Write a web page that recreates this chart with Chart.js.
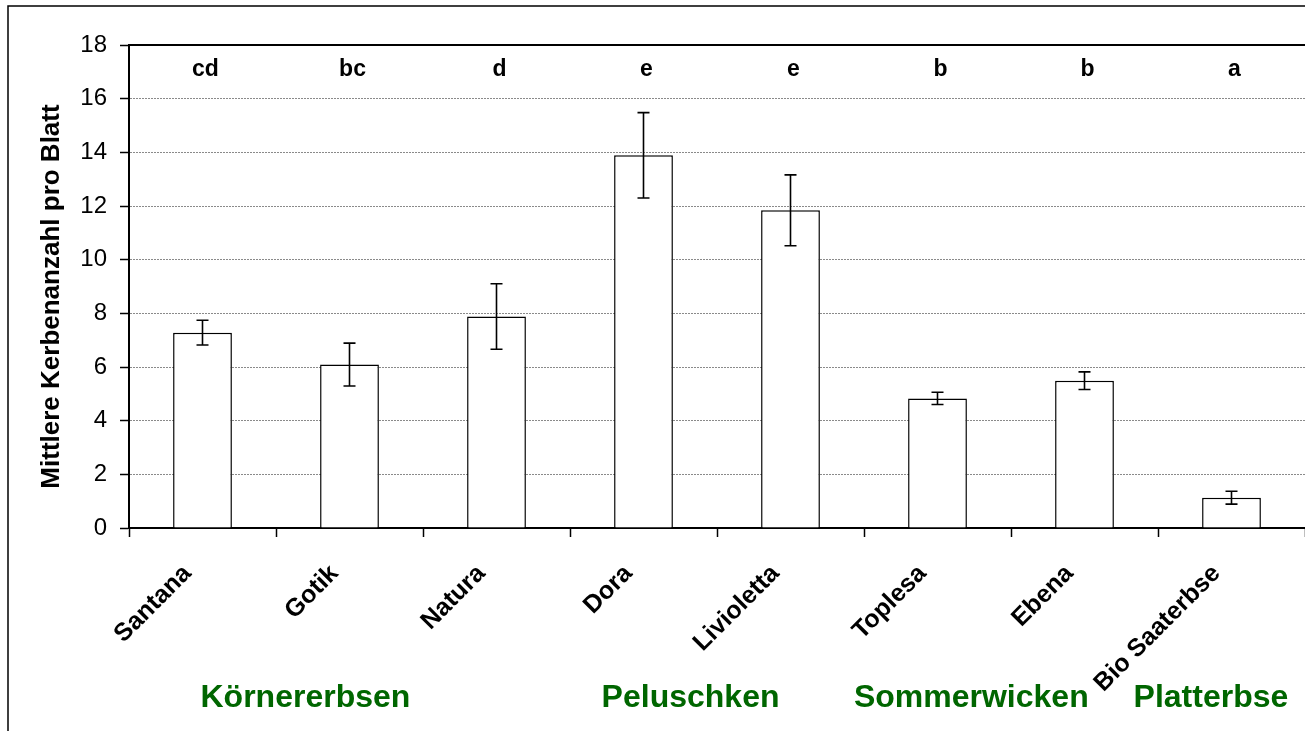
<!DOCTYPE html>
<html>
<head>
<meta charset="utf-8">
<script src="https://cdn.jsdelivr.net/npm/chart.js@4/dist/chart.umd.min.js"></script>
<style>
  html, body { margin: 0; padding: 0; background: #fff; }
  #wrap { width: 1305px; height: 731px; }
</style>
</head>
<body>
<div id="wrap"><canvas id="chart" width="1305" height="731"></canvas></div>
<script>
// ── Data ──
const varieties = ['Santana', 'Gotik', 'Natura', 'Dora', 'Livioletta', 'Toplesa', 'Ebena', 'Bio Saaterbse']
const meanNotches = [7.28, 6.09, 7.88, 13.89, 11.84, 4.83, 5.49, 1.13]
const errNotches = [0.46, 0.80, 1.22, 1.59, 1.32, 0.23, 0.33, 0.24]
const sigLetters = ['cd', 'bc', 'd', 'e', 'e', 'b', 'b', 'a']
const groupNames = ['Körnererbsen', 'Peluschken', 'Sommerwicken', 'Platterbse']
const yTicks = [0, 2, 4, 6, 8, 10, 12, 14, 16, 18]
const yTitle = 'Mittlere Kerbenanzahl pro Blatt'

// group label anchors (fractional category index) — layout, not data
const GROUP_AT = [0.70, 3.32, 5.23, 6.86]
const FONT = "'Liberation Sans', Arial, sans-serif"
const GREEN = '#006600'

// ── Plugins ──

// outer frame, top border of the plot area, y title
const framePlugin = {
  id: 'frame',
  beforeDraw(chart) {
    const { ctx } = chart
    ctx.save()
    ctx.strokeStyle = '#000'
    ctx.lineWidth = 1.5
    ctx.beginPath()
    ctx.moveTo(8, chart.height)
    ctx.lineTo(8, 6)
    ctx.lineTo(chart.width, 6)
    ctx.stroke()
    ctx.restore()
  },
  afterDraw(chart) {
    const { ctx, chartArea } = chart
    ctx.save()
    ctx.strokeStyle = '#000'
    ctx.lineWidth = 2
    ctx.beginPath()
    ctx.moveTo(chartArea.left, chartArea.top)
    ctx.lineTo(chartArea.right, chartArea.top)
    ctx.stroke()

    // y axis title, sits a little below the plot centre in the original
    ctx.translate(52, (chartArea.top + chartArea.bottom) / 2 + 10)
    ctx.rotate(-Math.PI / 2)
    ctx.fillStyle = '#000'
    ctx.font = `bold 26px ${FONT}`
    ctx.textAlign = 'center'
    ctx.textBaseline = 'middle'
    ctx.fillText(yTitle, 0, 0)
    ctx.restore()
  },
}

// error bars, drawn through the chart's scales
const errorBarPlugin = {
  id: 'errorBars',
  afterDatasetsDraw(chart) {
    const { ctx, scales: { y } } = chart
    const meta = chart.getDatasetMeta(0)
    ctx.save()
    ctx.strokeStyle = '#000'
    ctx.lineWidth = 1.6
    meta.data.forEach((bar, i) => {
      const cx = bar.x
      const top = y.getPixelForValue(meanNotches[i] + errNotches[i])
      const bot = y.getPixelForValue(meanNotches[i] - errNotches[i])
      ctx.beginPath()
      ctx.moveTo(cx, top); ctx.lineTo(cx, bot)
      ctx.moveTo(cx - 6, top); ctx.lineTo(cx + 6, top)
      ctx.moveTo(cx - 6, bot); ctx.lineTo(cx + 6, bot)
      ctx.stroke()
    })
    ctx.restore()
  },
}

// significance letters + group captions
const labelPlugin = {
  id: 'labels',
  afterDraw(chart) {
    const { ctx, scales: { x, y } } = chart
    ctx.save()
    ctx.fillStyle = '#000'
    ctx.font = `bold 23px ${FONT}`
    ctx.textAlign = 'center'
    ctx.textBaseline = 'alphabetic'
    const ly = y.getPixelForValue(16.85)
    sigLetters.forEach((l, i) => ctx.fillText(l, x.getPixelForValue(i) + 3, ly))

    ctx.fillStyle = GREEN
    ctx.font = `bold 32px ${FONT}`
    groupNames.forEach((g, i) => ctx.fillText(g, x.getPixelForValue(GROUP_AT[i]), 707))
    ctx.restore()
  },
}

// ── Chart ──

new Chart(document.getElementById('chart'), {
  type: 'bar',
  data: {
    labels: varieties,
    datasets: [{
      data: meanNotches,
      backgroundColor: '#fff',
      borderColor: '#000',
      borderWidth: 1.5,
      categoryPercentage: 1,
      barPercentage: 0.4,
    }],
  },
  options: {
    responsive: false,
    animation: false,
    devicePixelRatio: 1,
    layout: { padding: { top: 45, right: 0, left: 0, bottom: 0 } },
    plugins: { legend: { display: false }, tooltip: { enabled: false } },
    scales: {
      x: {
        offset: true,
        afterFit: s => { s.height = 203 },
        grid: {
          offset: true,
          drawOnChartArea: false,
          drawTicks: true,
          tickLength: 9,
          tickColor: '#000',
          tickWidth: 1.5,
        },
        border: { display: true, color: '#000', width: 2 },
        ticks: {
          autoSkip: false,
          minRotation: 45,
          maxRotation: 45,
          padding: 22,
          labelOffset: -15,
          color: '#000',
          font: { family: FONT, size: 25, weight: 'bold' },
        },
      },
      y: {
        min: 0,
        max: 18,
        afterFit: s => { s.width = 129 },
        afterBuildTicks: s => { s.ticks = yTicks.map(v => ({ value: v })) },
        grid: {
          color: '#8a8a8a',
          lineWidth: 1,
          drawTicks: true,
          tickLength: 9,
          tickColor: '#000',
          tickWidth: 1.5,
          tickBorderDash: [],
        },
        border: { display: true, color: '#000', width: 2, dash: [2, 1] },
        ticks: {
          padding: 13,
          color: '#000',
          font: { family: FONT, size: 24 },
        },
      },
    },
  },
  plugins: [framePlugin, errorBarPlugin, labelPlugin],
})
</script>
</body>
</html>
